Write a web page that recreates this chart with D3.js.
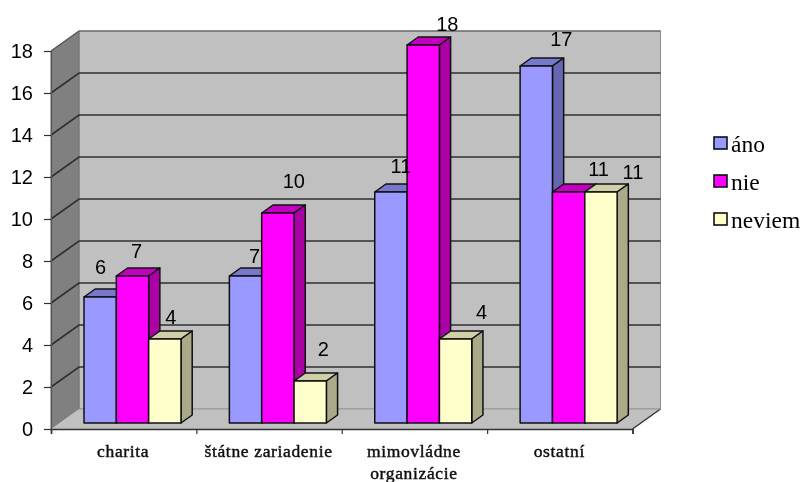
<!DOCTYPE html>
<html>
<head>
<meta charset="utf-8">
<script src="https://cdn.jsdelivr.net/npm/d3@7"></script>
<style>
  html, body { margin: 0; padding: 0; background: #fff; }
  svg { display: block; }
</style>
</head>
<body>
<svg id="canvas" width="802" height="482"></svg>
<script>
//chart values
let categories = [['charita'], ['štátne zariadenie'], ['mimovládne', 'organizácie'], ['ostatní']];
let seriesNames = ['áno', 'nie', 'neviem'];
let ano = [6, 7, 11, 17];
let nie = [7, 10, 18, 11];
let neviem = [4, 2, 4, 11];
let seriesValues = [ano, nie, neviem];
let yTicks = [0, 2, 4, 6, 8, 10, 12, 14, 16, 18];

//front, top and side colour of each series
let colors = [
    {front: '#9999ff', top: '#7777cc', side: '#6666b3'},
    {front: '#ff00ff', top: '#c400c0', side: '#aa00a6'},
    {front: '#ffffcc', top: '#d0d0a8', side: '#aaaa88'}
];

//hand placed nudges for the value labels, [series][category]
let labelDx = [[0.5, 9, 10, 25], [4, 16, 24, 30], [6, 13, 26, 32]];
let labelDy = [[-23, -13, -19, -20], [-18, -25, -14, -16], [-15, -25, -20, -13]];

let canvas = d3.select('#canvas');

//the depth of the 3d box
let depthX = 28;
let depthY = -20;

let yScale = d3.scaleLinear().domain([0, 18]).range([429, 51]);
let xEdge = d3.scaleLinear().domain([0, 4]).range([51, 632.5]);
let xGroup = d3.scaleBand().domain(d3.range(4)).range([51, 632.5]);
let xBar = d3.scaleBand().domain(d3.range(3)).range([24.6, 121.6]);

//moves a front plane point back into the box, d goes from 0 to 1
let px = (x, d) => x + depthX * d;
let py = (y, d) => y + depthY * d;
let poly = (points) => points.map((p) => p.join(',')).join(' ');

let chart = canvas.append('g').attr('filter', 'url(#soft)');
let defs = canvas.append('defs');
defs.append('filter').attr('id', 'soft')
    .attr('x', 0).attr('y', 0).attr('width', 1).attr('height', 1)
    .append('feGaussianBlur').attr('stdDeviation', 0.45);

let x0 = xEdge(0);
let x1 = xEdge(4);
let y0 = yScale(0);
let y1 = yScale(18);

//back wall, side wall and floor
chart.append('polygon')
    .attr('points', poly([[px(x0, 1), py(y1, 1)], [px(x1, 1), py(y1, 1)], [px(x1, 1), py(y0, 1)], [px(x0, 1), py(y0, 1)]]))
    .attr('fill', '#c0c0c0').attr('stroke', '#8c8c8c').attr('stroke-width', 1);
chart.append('polygon')
    .attr('points', poly([[x0, y1], [px(x0, 1), py(y1, 1)], [px(x0, 1), py(y0, 1)], [x0, y0]]))
    .attr('fill', '#808080').attr('stroke', '#707070').attr('stroke-width', 1);
chart.append('polygon')
    .attr('points', poly([[x0, y0], [px(x0, 1), py(y0, 1)], [px(x1, 1), py(y0, 1)], [x1, y0]]))
    .attr('fill', '#c0c0c0');
chart.append('line')
    .attr('x1', x1).attr('y1', y0).attr('x2', px(x1, 1)).attr('y2', py(y0, 1))
    .attr('stroke', '#333').attr('stroke-width', 1.4);
chart.append('line')
    .attr('x1', px(x0, 1)).attr('y1', py(y0, 1)).attr('x2', px(x1, 1)).attr('y2', py(y0, 1))
    .attr('stroke', '#999').attr('stroke-width', 1);

//gridlines along the wall
let grid = chart.selectAll('.grid').data(yTicks.filter((t) => t > 0 && t < 18)).enter().append('g').attr('class', 'grid');
grid.append('polyline')
    .attr('points', (t) => poly([[x0, yScale(t)], [px(x0, 1), py(yScale(t), 1)], [px(x1, 1), py(yScale(t), 1)]]))
    .attr('fill', 'none').attr('stroke', '#2f2f2f').attr('stroke-width', 1.6);
chart.append('polyline')
    .attr('points', poly([[x0, y1], [px(x0, 1), py(y1, 1)], [px(x1, 1), py(y1, 1)]]))
    .attr('fill', 'none').attr('stroke', '#555').attr('stroke-width', 1.2);

//the bars sit between these two depths
let barFrontDepth = 0.3;
let barBackDepth = 0.7;

seriesValues.forEach((values, s) => {
    let bars = chart.selectAll('.bar' + s).data(values).enter().append('g').attr('class', 'bar' + s);
    let left = (i) => px(xGroup(i) + xBar(s), barFrontDepth);
    let right = (i) => left(i) + xBar.bandwidth();
    let top = (v) => py(yScale(v), barFrontDepth);
    let bottom = py(yScale(0), barFrontDepth);
    let dx = depthX * (barBackDepth - barFrontDepth);
    let dy = depthY * (barBackDepth - barFrontDepth);

    bars.append('polygon')
        .attr('points', (v, i) => poly([[left(i), top(v)], [left(i) + dx, top(v) + dy], [right(i) + dx, top(v) + dy], [right(i), top(v)]]))
        .attr('fill', colors[s].top);
    bars.append('polygon')
        .attr('points', (v, i) => poly([[right(i), top(v)], [right(i) + dx, top(v) + dy], [right(i) + dx, bottom + dy], [right(i), bottom]]))
        .attr('fill', colors[s].side);
    bars.append('rect')
        .attr('x', (v, i) => left(i))
        .attr('y', (v) => top(v))
        .attr('width', xBar.bandwidth())
        .attr('height', (v) => bottom - top(v))
        .attr('fill', colors[s].front);
    bars.selectAll('polygon, rect')
        .attr('stroke', '#111').attr('stroke-width', 1.5).attr('stroke-linejoin', 'round');
});

//axes
let yAxis = d3.axisLeft(yScale).tickValues(yTicks).tickSize(7).tickPadding(11);
let yGroup = chart.append('g').attr('transform', 'translate(' + x0 + ',0)').call(yAxis);
yGroup.select('.domain').attr('stroke', '#555').attr('stroke-width', 1.2);
yGroup.selectAll('.tick line').attr('stroke', '#333').attr('stroke-width', 1.2);
yGroup.selectAll('text').attr('font-family', '"Liberation Sans"').attr('font-size', 20).attr('fill', '#000');

let xAxis = d3.axisBottom(xEdge).tickValues(d3.range(5)).tickSize(5).tickFormat('');
let xGroupAxis = chart.append('g').attr('transform', 'translate(0,' + y0 + ')').call(xAxis);
xGroupAxis.select('.domain').attr('stroke', '#333').attr('stroke-width', 1.6);
xGroupAxis.selectAll('.tick line').attr('stroke', '#333').attr('stroke-width', 1.2);

//category labels, some take two lines
let catLabels = chart.selectAll('.cat').data(categories).enter().append('text')
    .attr('class', 'cat')
    .attr('text-anchor', 'middle')
    .attr('font-family', '"Liberation Serif"')
    .attr('font-size', 17.5)
    .attr('letter-spacing', 0.65)
    .attr('stroke', '#111')
    .attr('stroke-width', 0.45)
    .attr('fill', '#111');
catLabels.selectAll('tspan').data((c, i) => c.map((line) => ({line: line, i: i}))).enter().append('tspan')
    .attr('x', (d) => xGroup(d.i) + xGroup.bandwidth() / 2 - 0.5)
    .attr('y', (d, j) => 457 + j * 22)
    .text((d) => d.line);

//value labels
seriesValues.forEach((values, s) => {
    chart.selectAll('.val' + s).data(values).enter().append('text')
        .attr('class', 'val' + s)
        .attr('x', (v, i) => px(xGroup(i) + xBar(s), barFrontDepth) + xBar.bandwidth() / 2 + labelDx[s][i])
        .attr('y', (v, i) => py(yScale(v), barFrontDepth) + labelDy[s][i])
        .attr('text-anchor', 'middle')
        .attr('font-family', '"Liberation Sans"')
        .attr('font-size', 20)
        .attr('fill', '#000')
        .text((v) => v);
});

//legend
let legendY = d3.scalePoint().domain(seriesNames).range([152, 228]);
let legend = chart.selectAll('.legend').data(seriesNames).enter().append('g').attr('class', 'legend');
legend.append('rect')
    .attr('x', 714).attr('y', (n) => legendY(n) - 15)
    .attr('width', 13).attr('height', 12)
    .attr('fill', (n, i) => colors[i].front)
    .attr('stroke', '#111').attr('stroke-width', 1.6);
legend.append('text')
    .attr('x', 731).attr('y', (n) => legendY(n))
    .attr('font-family', '"Liberation Serif"')
    .attr('font-size', 23.5)
    .attr('fill', '#000')
    .text((n) => n);
</script>
</body>
</html>
